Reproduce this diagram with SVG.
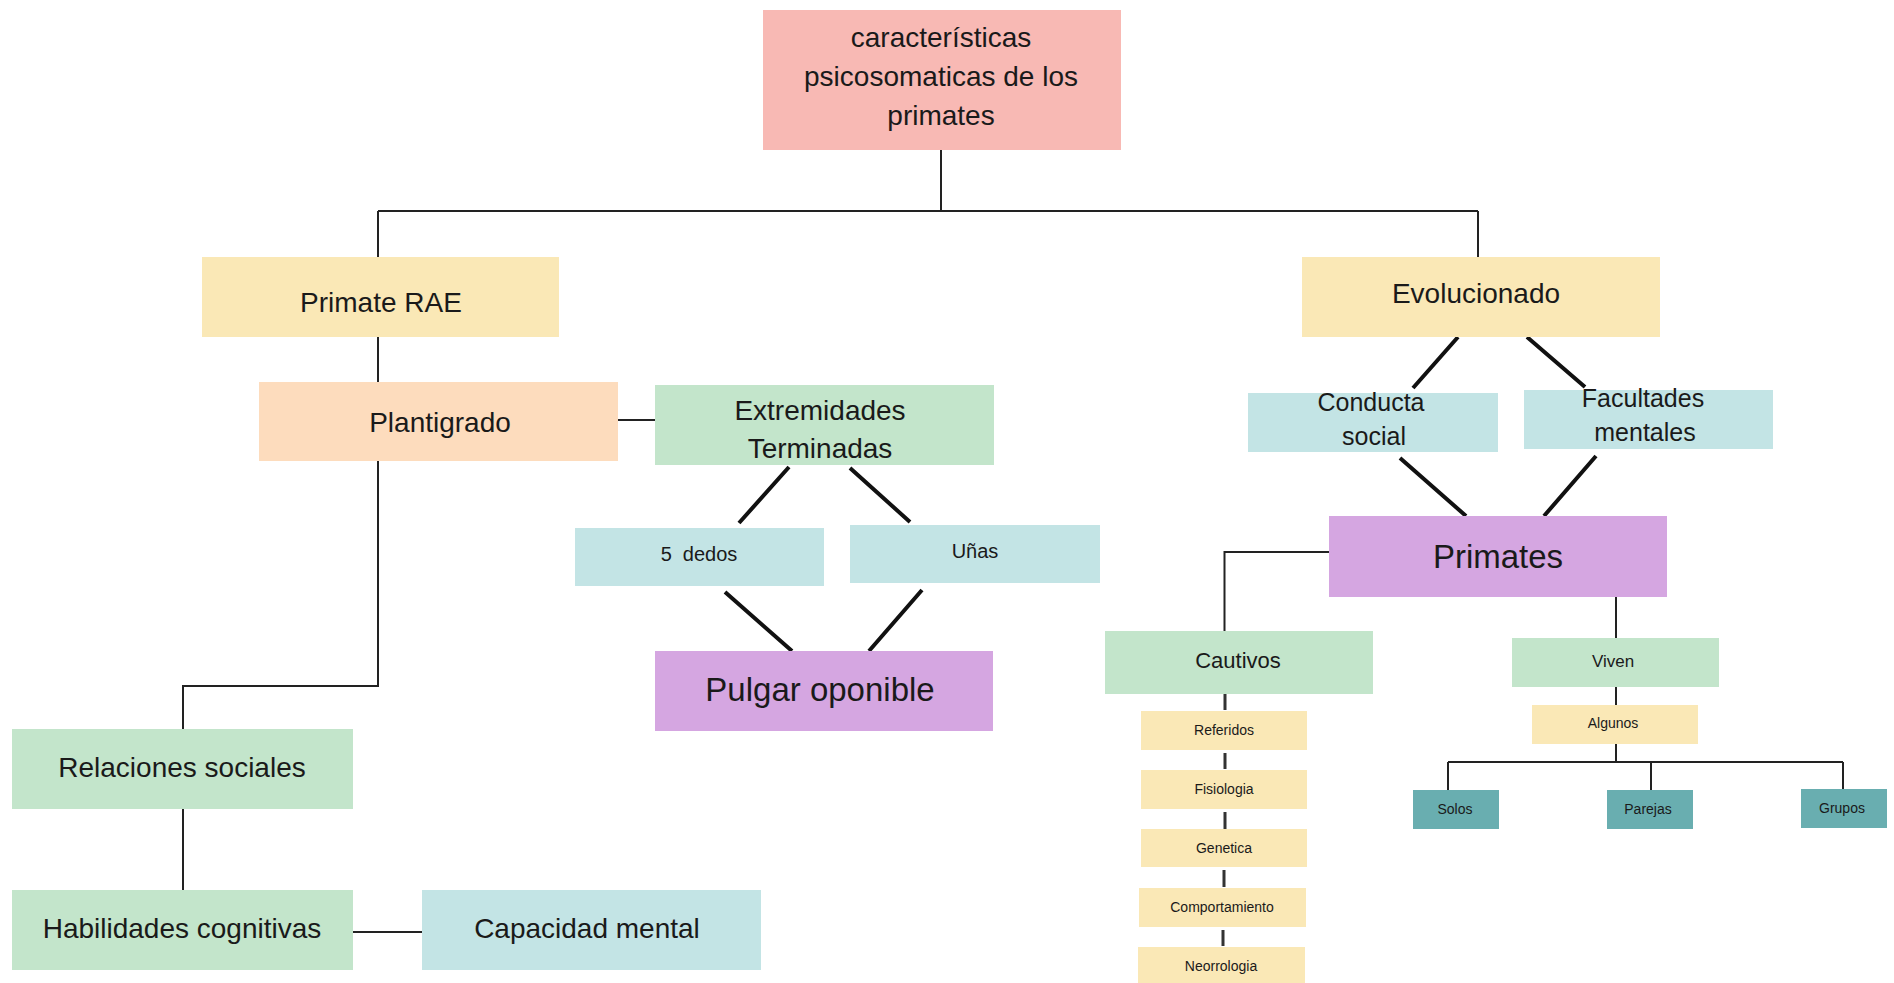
<svg xmlns="http://www.w3.org/2000/svg" width="1894" height="983" viewBox="0 0 1894 983">
<style>
text{font-family:"Liberation Sans",Arial,sans-serif;fill:#1a1a1a;text-anchor:middle}
.pink{fill:#f8b9b4}.yel{fill:#fae8b6}.peach{fill:#fddcbd}.green{fill:#c3e5cb}.cyan{fill:#c3e4e5}.purp{fill:#d5a6e1}.teal{fill:#69aeb0}
.ln{stroke:#222;stroke-width:2;fill:none}
.dg{stroke:#111;stroke-width:4;fill:none}
.sl{stroke:#333;stroke-width:3;fill:none}
.f28{font-size:28px}.f33{font-size:33px}.f25{font-size:25px}.f22{font-size:22px}.f20{font-size:20px}.f17{font-size:17px}.f14{font-size:14px}
</style>
<rect width="1894" height="983" fill="#ffffff"/>
<g id="connectors">
<path class="ln" d="M941 150V211M378 211H1478M378 211V257M1478 211V257"/>
<path class="ln" d="M378 336V382M618 420H655M378 461V686H183V729M183 809V890M353 932H422"/>
<path class="dg" d="M789 467L739 523M850 468L910 522M725 592L792 651M922 590L869 651"/>
<path class="dg" d="M1458 337L1413 388M1527 337L1585 387M1400 458L1466 516M1596 456L1544 516"/>
<path class="ln" d="M1329 552H1224.5V631M1616 597V638M1616 687V705M1616 744V762M1448 762H1843M1448 762V790M1651 762V790M1843 762V790"/>
<path class="sl" d="M1225 693V710M1225 753V769M1225 812V829M1224 870V887M1223 930V946"/>
</g>
<g id="n-title"><rect class="pink" x="763" y="10" width="358" height="140"/>
<text class="f28" x="941" y="47">características</text>
<text class="f28" x="941" y="86">psicosomaticas de los</text>
<text class="f28" x="941" y="125">primates</text></g>
<g id="n-primate-rae"><rect class="yel" x="202" y="257" width="357" height="80"/><text class="f28" x="381" y="312">Primate RAE</text></g>
<g id="n-plantigrado"><rect class="peach" x="259" y="382" width="359" height="79"/><text class="f28" x="440" y="432">Plantigrado</text></g>
<g id="n-extremidades"><rect class="green" x="655" y="385" width="339" height="80"/><text class="f28" x="820" y="420">Extremidades</text><text class="f28" x="820" y="458">Terminadas</text></g>
<g id="n-5dedos"><rect class="cyan" x="575" y="528" width="249" height="58"/><text class="f20" x="699" y="561" xml:space="preserve">5  dedos</text></g>
<g id="n-unas"><rect class="cyan" x="850" y="525" width="250" height="58"/><text class="f20" x="975" y="558">Uñas</text></g>
<g id="n-pulgar"><rect class="purp" x="655" y="651" width="338" height="80"/><text class="f33" x="820" y="701">Pulgar oponible</text></g>
<g id="n-relaciones"><rect class="green" x="12" y="729" width="341" height="80"/><text class="f28" x="182" y="777">Relaciones sociales</text></g>
<g id="n-habilidades"><rect class="green" x="12" y="890" width="341" height="80"/><text class="f28" x="182" y="938">Habilidades cognitivas</text></g>
<g id="n-capacidad"><rect class="cyan" x="422" y="890" width="339" height="80"/><text class="f28" x="587" y="938">Capacidad mental</text></g>
<g id="n-evolucionado"><rect class="yel" x="1302" y="257" width="358" height="80"/><text class="f28" x="1476" y="303">Evolucionado</text></g>
<g id="n-conducta"><rect class="cyan" x="1248" y="393" width="250" height="59"/><text class="f25" x="1371" y="411">Conducta</text><text class="f25" x="1374" y="445">social</text></g>
<g id="n-facultades"><rect class="cyan" x="1524" y="390" width="249" height="59"/><text class="f25" x="1643" y="407">Facultades</text><text class="f25" x="1645" y="441">mentales</text></g>
<g id="n-primates"><rect class="purp" x="1329" y="516" width="338" height="81"/><text class="f33" x="1498" y="568">Primates</text></g>
<g id="n-cautivos"><rect class="green" x="1105" y="631" width="268" height="63"/><text class="f22" x="1238" y="668">Cautivos</text></g>
<g id="n-viven"><rect class="green" x="1512" y="638" width="207" height="49"/><text class="f17" x="1613" y="667">Viven</text></g>
<g id="n-algunos"><rect class="yel" x="1532" y="705" width="166" height="39"/><text class="f14" x="1613" y="728">Algunos</text></g>
<g id="n-solos"><rect class="teal" x="1413" y="790" width="86" height="39"/><text class="f14" x="1455" y="814">Solos</text></g>
<g id="n-parejas"><rect class="teal" x="1607" y="790" width="86" height="39"/><text class="f14" x="1648" y="814">Parejas</text></g>
<g id="n-grupos"><rect class="teal" x="1801" y="789" width="86" height="39"/><text class="f14" x="1842" y="813">Grupos</text></g>
<g id="n-referidos"><rect class="yel" x="1141" y="711" width="166" height="39"/><text class="f14" x="1224" y="735">Referidos</text></g>
<g id="n-fisiologia"><rect class="yel" x="1141" y="770" width="166" height="39"/><text class="f14" x="1224" y="794">Fisiologia</text></g>
<g id="n-genetica"><rect class="yel" x="1141" y="829" width="166" height="38"/><text class="f14" x="1224" y="853">Genetica</text></g>
<g id="n-comportamiento"><rect class="yel" x="1139" y="888" width="167" height="39"/><text class="f14" x="1222" y="912">Comportamiento</text></g>
<g id="n-neorrologia"><rect class="yel" x="1138" y="947" width="167" height="36"/><text class="f14" x="1221" y="971">Neorrologia</text></g>
</svg>
